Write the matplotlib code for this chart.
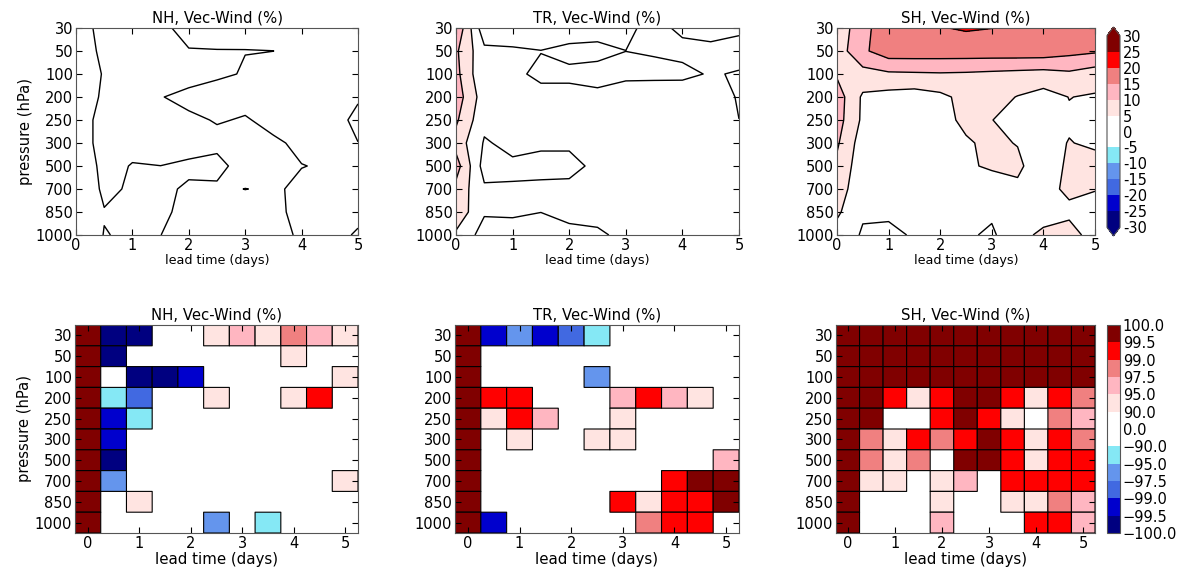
import numpy as np
import matplotlib
matplotlib.use('Agg')
import matplotlib.pyplot as plt
from matplotlib.colors import ListedColormap, BoundaryNorm

# lead times (days) and pressure levels (hPa)
lead = np.arange(0, 5.5, 0.5)
plevs = [30, 50, 100, 200, 250, 300, 500, 700, 850, 1000]
regions = ['NH', 'TR', 'SH']

# ---- top row: Vec-Wind change (%), rows = plevs, cols = lead
nh_pct = np.array([
    [1.5, -1.0, -1.5, -1.0, 1.5, 2.0, 2.0, 2.0, 2.0, 2.0, 2.0],
    [2.6, -1.0, -1.5, -1.0, -0.22, -0.15, -0.13, -0.02, 2.0, 2.0, 2.0],
    [4.5, -0.5, -1.5, -1.5, -1.0, -1.4, 0.6, 2.0, 2.0, 2.0, 2.0],
    [4.0, -1.0, -1.5, -0.1, 0.67, 4.0, 0.64, 2.0, 2.0, 2.0, 0.24],
    [1.5, -1.0, -1.5, -1.0, -0.45, 0.16, -0.16, 0.54, 2.0, 1.0, -0.56],
    [1.5, -1.0, -1.5, -1.5, -1.5, -0.64, -0.5, -0.28, 0.36, 1.0, 0.03],
    [4.5, -1.6, 0.26, 0.02, 0.64, 0.75, -1.1, -1.0, -0.04, 0.16, 1.0],
    [4.8, -1.0, 0.6, 0.64, -0.43, -0.4, 0.03, -0.24, 0.36, 1.0, 1.0],
    [3.0, 0.25, 1.0, 0.4, -0.6, -1.0, -1.0, -0.3, 0.36, 1.0, 0.75],
    [4.0, -0.17, 0.6, 0.02, -1.0, -1.0, -1.0, -0.7, 0.3, 1.0, -0.32],
])
tr_pct = np.array([
    [14.6, -3.5, -1.0, -1.6, -1.0, -1.0, -0.4, 0.6, -0.4, -1.0, -0.5],
    [10.8, 1.2, 0.22, 0.05, 0.47, 0.67, 0.01, 0.4, 0.55, 0.67, 1.0],
    [11.5, 0.6, 0.4, -0.4, -0.34, -0.82, -0.6, -1.2, -0.55, 0.2, -0.2],
    [12.7, 2.3, 1.0, 0.6, 0.51, 0.55, 1.4, 3.1, 1.5, 1.2, -0.2],
    [10.8, 1.2, 1.0, 1.0, 1.0, 1.0, 1.0, 1.0, 1.0, 1.0, 0.01],
    [8.1, -0.44, 1.13, 0.5, 0.5, 1.0, 1.0, 1.0, 1.0, 1.0, 1.0],
    [12.3, -2.1, -0.75, -0.93, -0.93, 0.73, 1.0, 1.0, 1.0, 1.0, 1.0],
    [8.5, 0.78, 0.37, 0.62, 0.76, 1.0, 1.0, 1.0, 1.0, 1.0, 1.0],
    [8.5, 0.5, 0.5, 0.02, 0.8, 1.0, 1.0, 1.0, 1.0, 1.0, 1.0],
    [4.1, -2.0, -1.5, -1.0, -0.8, -0.5, 0.75, 1.0, 1.0, 1.0, 1.0],
])
sh_pct = np.array([
    [6.0, 14.0, 17.0, 18.5, 19.8, 20.4, 20.05, 19.0, 18.5, 18.0, 17.5],
    [7.3, 14.1, 17.8, 17.8, 17.7, 17.7, 17.7, 17.8, 17.8, 16.5, 15.7],
    [9.4, 8.2, 9.2, 9.4, 9.6, 9.4, 9.0, 8.6, 8.2, 9.1, 7.5],
    [12.5, 4.2, 3.2, 2.6, 3.85, 6.5, 6.8, 4.8, 3.1, 5.1, 4.5],
    [12.1, 4.04, 3.0, 3.0, 3.0, 6.3, 5.05, 4.0, 3.5, 4.4, 4.0],
    [10.7, 2.4, 2.5, 2.5, 2.5, 4.33, 6.3, 4.7, 3.5, 5.17, 4.3],
    [8.95, 1.9, 2.5, 2.5, 2.5, 4.0, 6.0, 6.5, 0.25, 6.5, 6.6],
    [7.0, 2.24, 2.5, 2.5, 2.5, 2.5, 1.0, 3.5, 2.0, 6.8, 5.3],
    [5.86, 0.54, 0.5, 1.5, 2.0, 2.0, 0.77, 2.0, 3.0, 3.0, 2.3],
    [3.0, -0.5, -0.7, 0.3, 1.0, 0.7, -0.77, 3.5, 6.0, 8.7, 1.0],
])

# ---- bottom row: significance (%), sign = direction; |v| < 90 not shown
nh_sig = np.array([
    [99.8, -99.8, -99.8, 0, 0, 92, 96, 92, 98, 96, 92],
    [99.8, -99.8, 0, 0, 0, 0, 0, 0, 92, 0, 0],
    [99.8, 0, -99.8, -99.8, -99.2, 0, 0, 0, 0, 0, 92],
    [99.8, -92, -98, 0, 0, 92, 0, 0, 92, 99.2, 0],
    [99.8, -99.2, -92, 0, 0, 0, 0, 0, 0, 0, 0],
    [99.8, -99.2, 0, 0, 0, 0, 0, 0, 0, 0, 0],
    [99.8, -99.8, 0, 0, 0, 0, 0, 0, 0, 0, 0],
    [99.8, -96, 0, 0, 0, 0, 0, 0, 0, 0, 92],
    [99.8, 0, 92, 0, 0, 0, 0, 0, 0, 0, 0],
    [99.8, 0, 0, 0, 0, -96, 0, -92, 0, 0, 0],
])
tr_sig = np.array([
    [99.8, -99.2, -96, -99.2, -98, -92, 0, 0, 0, 0, 0],
    [99.8, 0, 0, 0, 0, 0, 0, 0, 0, 0, 0],
    [99.8, 0, 0, 0, 0, -96, 0, 0, 0, 0, 0],
    [99.8, 99.2, 99.2, 0, 0, 0, 96, 99.2, 96, 92, 0],
    [99.8, 92, 99.2, 96, 0, 0, 92, 0, 0, 0, 0],
    [99.8, 0, 92, 0, 0, 92, 92, 0, 0, 0, 0],
    [99.8, 0, 0, 0, 0, 0, 0, 0, 0, 0, 96],
    [99.8, 0, 0, 0, 0, 0, 0, 0, 99.2, 99.8, 99.8],
    [99.8, 0, 0, 0, 0, 0, 99.2, 92, 99.2, 99.2, 99.8],
    [99.8, -99.2, 0, 0, 0, 0, 0, 98, 99.2, 99.2, 0],
])
sh_sig = np.array([
    [99.8] * 11,
    [99.8] * 11,
    [99.8] * 11,
    [99.8, 99.8, 99.2, 92, 99.2, 99.8, 99.8, 99.2, 92, 99.2, 98],
    [99.8, 99.8, 0, 0, 99.2, 99.8, 99.2, 92, 0, 98, 96],
    [99.8, 98, 92, 99.2, 98, 99.2, 99.8, 99.2, 92, 99.2, 98],
    [99.8, 98, 92, 98, 0, 99.8, 99.8, 99.2, 92, 99.2, 99.2],
    [99.8, 92, 92, 0, 92, 96, 0, 99.2, 99.2, 99.2, 99.2],
    [99.8, 0, 0, 0, 92, 0, 0, 92, 92, 98, 96],
    [99.8, 0, 0, 0, 96, 0, 0, 0, 99.2, 99.2, 96],
])

pct_levels = np.arange(-30, 35, 5)
sig_levels = [-100, -99.5, -99, -97.5, -95, -90, 0, 90, 95, 97.5, 99, 99.5, 100]
ccols = ['#000080', '#0000cd', '#4169e1', '#6495ed', '#85e8f5', '#ffffff',
         '#ffffff', '#ffe4e1', '#ffb6c1', '#f08080', '#ff0000', '#800000']

cmap = ListedColormap(ccols)
cmap.set_under('#000080')
cmap.set_over('#800000')

W, H = 1195., 570.
fig = plt.figure(figsize=(W / 100, H / 100), dpi=100)


def px_axes(x0, x1, y0, y1):
    return fig.add_axes([x0 / W, 1 - y1 / H, (x1 - x0) / W, (y1 - y0) / H])


xcols = [(76, 358), (456, 739), (837, 1095)]
yidx = np.arange(len(plevs))

# top row: contours
for k, (reg, fld) in enumerate(zip(regions, [nh_pct, tr_pct, sh_pct])):
    ax = px_axes(xcols[k][0], xcols[k][1], 28, 235)
    cs = ax.contourf(lead, yidx, fld, levels=pct_levels, colors=ccols, extend='both')
    cs.cmap.set_under('#000080')
    cs.cmap.set_over('#800000')
    ax.contour(lead, yidx, fld, levels=pct_levels, colors='k', linewidths=1.0)
    ax.set_xlim(0, 5)
    ax.set_ylim(9, 0)
    ax.set_yticks(yidx)
    ax.set_yticklabels([str(p) for p in plevs])
    ax.set_xticks(np.arange(0, 6))
    ax.tick_params(direction='in', top=True, right=True, labelsize=10.5, length=4, pad=2)
    ax.set_title(reg + ', Vec-Wind (%)', fontsize=10.7, pad=4)
    ax.set_xlabel('lead time (days)', fontsize=9.2, labelpad=1)
    if k == 0:
        ax.set_ylabel('pressure (hPa)', fontsize=10.6, labelpad=2)
    for s in ax.spines.values():
        s.set_color('#555555')
    top_cs = cs

cax = px_axes(1107, 1120, 27, 236)
cb = fig.colorbar(top_cs, cax=cax, ticks=pct_levels, extendfrac=0.045)
cb.ax.set_yticklabels([str(v) for v in pct_levels])
cb.ax.tick_params(labelsize=10.5, length=0, pad=2)
cb.outline.set_edgecolor('#555555')

# bottom row: significance boxes
norm_sig = BoundaryNorm(sig_levels, cmap.N)
xe = np.arange(-0.25, 5.5, 0.5)
ye = np.arange(-0.5, 10, 1.0)
for k, (reg, fld) in enumerate(zip(regions, [nh_sig, tr_sig, sh_sig])):
    ax = px_axes(xcols[k][0] - 1, xcols[k][1], 325, 533)
    data = np.ma.masked_where(np.abs(fld) < 90, fld)
    pc = ax.pcolor(xe, ye, data, cmap=cmap, norm=norm_sig, edgecolors='k', linewidths=0.8)
    ax.set_xlim(-0.25, 5.25)
    ax.set_ylim(9.5, -0.5)
    ax.set_yticks(yidx)
    ax.set_yticklabels([str(p) for p in plevs])
    ax.set_xticks(np.arange(0, 6))
    ax.tick_params(direction='in', top=True, right=True, labelsize=10.5, length=4, pad=2)
    ax.set_title(reg + ', Vec-Wind (%)', fontsize=10.7, pad=4)
    ax.set_xlabel('lead time (days)', fontsize=10.8, labelpad=1)
    if k == 0:
        ax.set_ylabel('pressure (hPa)', fontsize=10.6, labelpad=2)
    for s in ax.spines.values():
        s.set_color('#555555')
    sig_pc = pc

cax2 = px_axes(1107, 1120, 325, 533)
cb2 = fig.colorbar(sig_pc, cax=cax2, ticks=sig_levels)
cb2.ax.set_yticklabels([('%.1f' % v).replace('-', '\u2212') for v in sig_levels])
cb2.ax.tick_params(labelsize=10.5, length=0, pad=2)
cb2.outline.set_edgecolor('#555555')

fig.savefig('out.png', dpi=100, facecolor='white')
